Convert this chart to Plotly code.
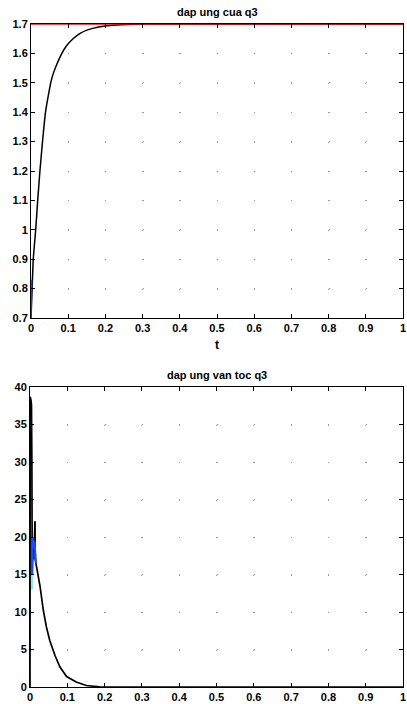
import plotly.graph_objects as go

# ---- data ----
x_ticks = [0, 0.1, 0.2, 0.3, 0.4, 0.5, 0.6, 0.7, 0.8, 0.9, 1.0]
x_tick_text = ["0", "0.1", "0.2", "0.3", "0.4", "0.5", "0.6", "0.7", "0.8", "0.9", "1"]
y1_ticks = [0.7, 0.8, 0.9, 1.0, 1.1, 1.2, 1.3, 1.4, 1.5, 1.6, 1.7]
y1_tick_text = ["0.7", "0.8", "0.9", "1", "1.1", "1.2", "1.3", "1.4", "1.5", "1.6", "1.7"]
y2_ticks = [0, 5, 10, 15, 20, 25, 30, 35, 40]
y2_tick_text = ["0", "5", "10", "15", "20", "25", "30", "35", "40"]

# position response q3
t_pos = [0, 0.003, 0.006, 0.0126, 0.018, 0.024, 0.031, 0.039, 0.046, 0.053, 0.06,
         0.07, 0.083, 0.095, 0.113, 0.132, 0.152, 0.182, 0.22, 0.28, 0.35, 0.4, 0.5,
         0.6, 0.7, 0.8, 0.9, 1.0]
q3 = [0.70, 0.80, 0.90, 1.00, 1.10, 1.20, 1.30, 1.40, 1.453, 1.50, 1.532,
      1.565, 1.60, 1.625, 1.65, 1.668, 1.68, 1.69, 1.696, 1.699, 1.70, 1.70, 1.70,
      1.70, 1.70, 1.70, 1.70, 1.70]
t_q3_blue = [0, 0.001, 0.002]
q3_blue = [0.70, 0.76, 0.83]
t_ref = [0, 1.0]
q3_ref = [1.7, 1.7]

# velocity response q3
t_vel = [0, 0.0005, 0.001, 0.002, 0.003, 0.004, 0.005, 0.006, 0.007, 0.008, 0.009,
         0.010, 0.011, 0.012, 0.013, 0.0135, 0.014, 0.016, 0.018, 0.022, 0.027,
         0.0355, 0.044, 0.053, 0.067, 0.08, 0.098, 0.124, 0.151, 0.187, 0.25, 0.3,
         0.4, 0.5, 0.6, 0.7, 0.8, 0.9, 1.0]
vel = [0, 38.7, 38.6, 38.4, 38.1, 37.6, 30.0, 15.0, 19.0, 17.0, 20.0,
       18.0, 19.5, 19.0, 22.0, 22.0, 17.0, 16.5, 16.0, 14.8, 13.4,
       10.3, 8.0, 6.2, 4.2, 2.7, 1.4, 0.67, 0.2, 0.03, 0, 0,
       0, 0, 0, 0, 0, 0, 0]
t_vel_blue = [0.005, 0.006, 0.008, 0.010, 0.012, 0.014, 0.016]
vel_blue = [15.0, 17.5, 20.0, 18.5, 19.5, 18.0, 16.5]
t_vel_cyan = [0.004, 0.006, 0.009, 0.012, 0.015]
vel_cyan = [13.0, 17.0, 19.0, 18.0, 17.0]

W, H = 407, 704
# plot areas in pixels (left, right, top, bottom)
top_box = (31, 403, 24, 318)
bot_box = (30, 403, 387, 687)


def dom_x(b):
    return [b[0] / W, b[1] / W]


def dom_y(b):
    return [1 - b[3] / H, 1 - b[2] / H]


fig = go.Figure()
fig.add_trace(go.Scatter(x=t_pos, y=q3, mode="lines", line=dict(color="black", width=1.5, shape="spline", smoothing=0.4),
                         xaxis="x", yaxis="y", showlegend=False))
fig.add_trace(go.Scatter(x=t_q3_blue, y=q3_blue, mode="lines", line=dict(color="#1a3cff", width=1.5),
                         xaxis="x", yaxis="y", showlegend=False))
fig.add_trace(go.Scatter(x=t_ref, y=q3_ref, mode="lines", line=dict(color="#ff0000", width=1.5),
                         xaxis="x", yaxis="y", showlegend=False, cliponaxis=False))

fig.add_trace(go.Scatter(x=t_vel_cyan, y=vel_cyan, mode="lines", line=dict(color="#8fe8ff", width=3),
                         xaxis="x2", yaxis="y2", showlegend=False))
fig.add_trace(go.Scatter(x=t_vel, y=vel, mode="lines", line=dict(color="black", width=1.7),
                         xaxis="x2", yaxis="y2", showlegend=False))
fig.add_trace(go.Scatter(x=t_vel_blue, y=vel_blue, mode="lines", line=dict(color="#1a4cff", width=2),
                         xaxis="x2", yaxis="y2", showlegend=False))

tick_font = dict(family="Liberation Sans, Arial, sans-serif", size=11, color="black", weight="bold")

axis_common = dict(
    showline=True, linecolor="black", linewidth=1, mirror="ticks",
    ticks="inside", ticklen=4, tickcolor="black", tickwidth=1,
    tickfont=tick_font, zeroline=False, showgrid=True,
    gridcolor="#9a9a9a", gridwidth=1, automargin=False, fixedrange=True,
)

# x gridlines are vertical: dot spacing = y tick spacing; y gridlines horizontal: dot spacing = x tick spacing
top_dy = (top_box[3] - top_box[2]) / 10
top_dx = (top_box[1] - top_box[0]) / 10
bot_dy = (bot_box[3] - bot_box[2]) / 8
bot_dx = (bot_box[1] - bot_box[0]) / 10

title_font = dict(family="Liberation Sans, Arial, sans-serif", size=11, color="black", weight="bold")

fig.update_layout(
    width=W, height=H, margin=dict(l=0, r=0, t=0, b=0, autoexpand=False),
    paper_bgcolor="white", plot_bgcolor="white",
    xaxis=dict(domain=dom_x(top_box), range=[0, 1], tickvals=x_ticks, ticktext=x_tick_text,
               anchor="y", griddash=f"1px,{top_dy - 1:.2f}px", **axis_common),
    yaxis=dict(domain=dom_y(top_box), range=[0.7, 1.7], tickvals=y1_ticks, ticktext=y1_tick_text,
               anchor="x", griddash=f"1px,{top_dx - 1:.2f}px", **axis_common),
    xaxis2=dict(domain=dom_x(bot_box), range=[0, 1], tickvals=x_ticks, ticktext=x_tick_text,
                anchor="y2", griddash=f"1px,{bot_dy - 1:.2f}px", **axis_common),
    yaxis2=dict(domain=dom_y(bot_box), range=[0, 40], tickvals=y2_ticks, ticktext=y2_tick_text,
                anchor="x2", griddash=f"1px,{bot_dx - 1:.2f}px", **axis_common),
    annotations=[
        dict(text="dap ung cua q3", x=217 / W, y=1 - 12 / H, xref="paper", yref="paper",
             showarrow=False, xanchor="center", yanchor="middle", font=title_font),
        dict(text="t", x=217 / W, y=1 - 345 / H, xref="paper", yref="paper",
             showarrow=False, xanchor="center", yanchor="middle",
             font=dict(family="Liberation Sans, Arial, sans-serif", size=12, color="black", weight="bold")),
        dict(text="dap ung van toc q3", x=217 / W, y=1 - 375 / H, xref="paper", yref="paper",
             showarrow=False, xanchor="center", yanchor="middle", font=title_font),
    ],
)

fig.write_html(
    "out.html",
    config={"displayModeBar": False},
    post_script="document.body.style.margin='0';document.body.style.overflow='hidden';",
)
